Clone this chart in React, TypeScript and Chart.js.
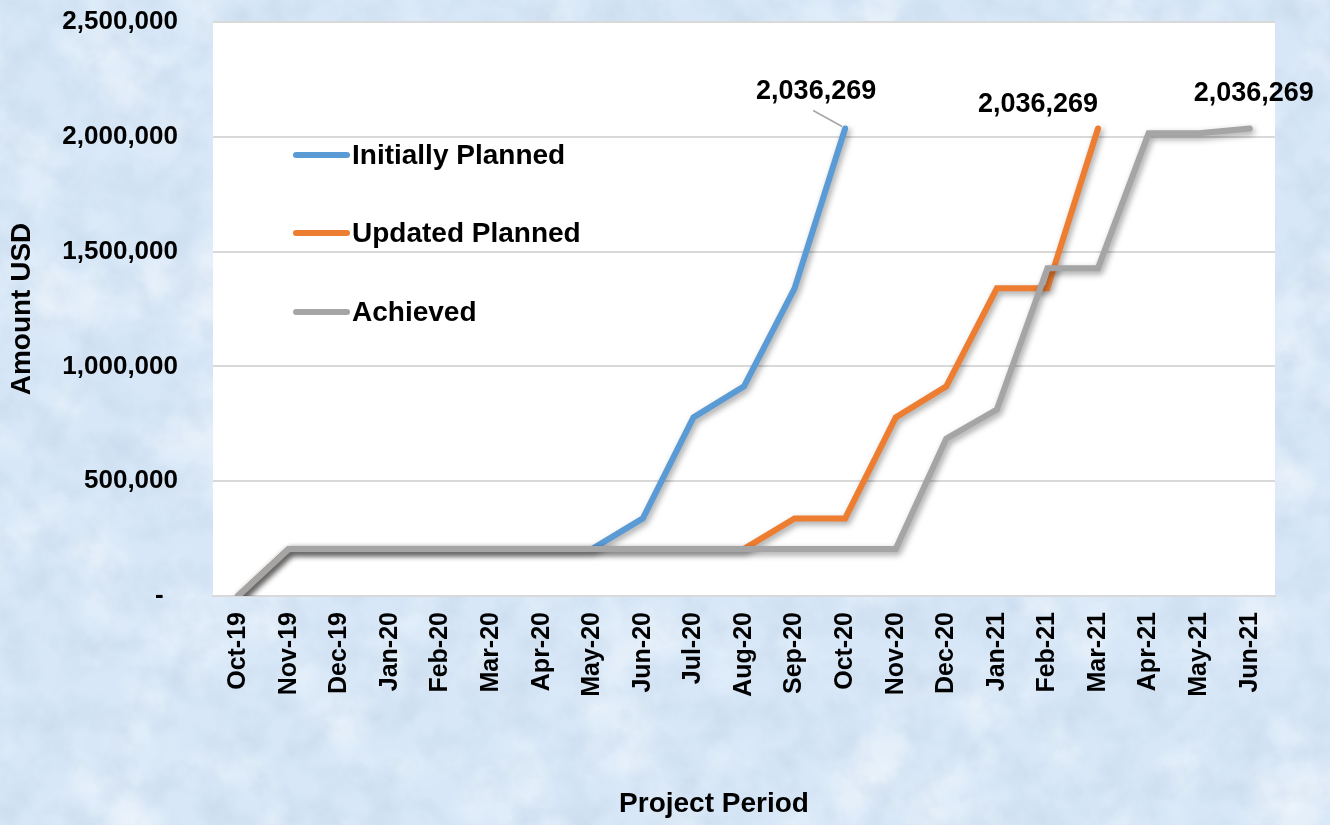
import React, { useEffect, useRef } from "react";
import { Chart, registerables } from "chart.js";

Chart.register(...registerables);

const months = [
  "Oct-19", "Nov-19", "Dec-19", "Jan-20", "Feb-20", "Mar-20", "Apr-20",
  "May-20", "Jun-20", "Jul-20", "Aug-20", "Sep-20", "Oct-20", "Nov-20",
  "Dec-20", "Jan-21", "Feb-21", "Mar-21", "Apr-21", "May-21", "Jun-21",
];
const initiallyPlanned = [
  0, 205000, 205000, 205000, 205000, 205000, 205000, 205000, 338000, 778000,
  913000, 1340000, 2036269, null, null, null, null, null, null, null, null,
];
const updatedPlanned = [
  0, 205000, 205000, 205000, 205000, 205000, 205000, 205000, 205000, 205000,
  205000, 338000, 338000, 778000, 913000, 1340000, 1340000, 2036269, null, null, null,
];
const achieved = [
  0, 205000, 205000, 205000, 205000, 205000, 205000, 205000, 205000, 205000,
  205000, 205000, 205000, 205000, 685000, 812000, 1428000, 1428000, 2015000, 2015000, 2036269,
];
const seriesNames = ["Initially Planned", "Updated Planned", "Achieved"];
const seriesColors = ["#5B9BD5", "#ED7D31", "#A5A5A5"];
const yTickValues = [0, 500000, 1000000, 1500000, 2000000, 2500000];
const endLabel = "2,036,269";
const xTitle = "Project Period";
const yTitle = "Amount USD";

const FONT = "'Liberation Sans', Arial, sans-serif";

const fmt = (v: number) => (v === 0 ? "-  " : v.toLocaleString("en-US"));

const plotBgPlugin = {
  id: "plotBg",
  beforeDraw(chart: any) {
    const { ctx, chartArea: a } = chart;
    ctx.save();
    ctx.fillStyle = "#ffffff";
    ctx.fillRect(a.left, a.top, a.right - a.left, a.bottom - a.top);
    ctx.restore();
  },
};

const shadowPlugin = {
  id: "lineShadow",
  beforeDatasetDraw(chart: any) {
    const ctx = chart.ctx;
    ctx.save();
    ctx.shadowColor = "rgba(0,0,0,0.38)";
    ctx.shadowBlur = 6;
    ctx.shadowOffsetX = 2;
    ctx.shadowOffsetY = 3;
  },
  afterDatasetDraw(chart: any) {
    chart.ctx.restore();
  },
};

// label offsets relative to each series' last point (style only)
const labelOffsets = [
  { dx: -29, dy: -37, leader: true },
  { dx: -60, dy: -24, leader: false },
  { dx: 4, dy: -35, leader: false },
];

const annotatePlugin = {
  id: "annotate",
  afterDatasetsDraw(chart: any) {
    const { ctx, chartArea: a } = chart;
    ctx.save();
    // legend
    const legendX = a.left + 80;
    const legendYs = [133, 211, 290];
    seriesNames.forEach((name, i) => {
      const y = a.top + legendYs[i];
      ctx.strokeStyle = seriesColors[i];
      ctx.lineWidth = 6;
      ctx.lineCap = "round";
      ctx.beginPath();
      ctx.moveTo(legendX + 3, y);
      ctx.lineTo(legendX + 54, y);
      ctx.stroke();
      ctx.fillStyle = "#000";
      ctx.font = `bold 28px ${FONT}`;
      ctx.textAlign = "left";
      ctx.textBaseline = "middle";
      ctx.fillText(name, legendX + 59, y + 1);
    });
    // end labels
    chart.data.datasets.forEach((ds: any, di: number) => {
      const meta = chart.getDatasetMeta(di);
      let last = -1;
      ds.data.forEach((v: any, k: number) => {
        if (v !== null && v !== undefined) last = k;
      });
      if (last < 0) return;
      const pt = meta.data[last];
      const off = labelOffsets[ds.seriesIndex];
      const cx = pt.x + off.dx;
      const cy = pt.y + off.dy;
      if (off.leader) {
        ctx.strokeStyle = "#A6A6A6";
        ctx.lineWidth = 1.5;
        ctx.lineCap = "butt";
        ctx.beginPath();
        ctx.moveTo(pt.x - 32, pt.y - 18);
        ctx.lineTo(pt.x - 3, pt.y - 2);
        ctx.stroke();
      }
      ctx.fillStyle = "#000";
      ctx.font = `bold 27px ${FONT}`;
      ctx.textAlign = "center";
      ctx.textBaseline = "middle";
      ctx.fillText(endLabel, cx, cy);
    });
    // x axis title
    ctx.fillStyle = "#000";
    ctx.font = `bold 28px ${FONT}`;
    ctx.textAlign = "center";
    ctx.textBaseline = "middle";
    ctx.fillText(xTitle, (a.left + a.right) / 2 - 30, chart.height - 21);
    ctx.restore();
  },
};

const noiseSvg =
  "<svg xmlns='http://www.w3.org/2000/svg' width='1330' height='825'>" +
  "<filter id='n' x='0' y='0' width='100%' height='100%'>" +
  "<feTurbulence type='fractalNoise' baseFrequency='0.03' numOctaves='4' seed='7'/>" +
  "<feColorMatrix type='matrix' values='0 0 0 0 0.55 0 0 0 0 0.67 0 0 0 0 0.82 1.1 0 0 0 -0.42'/>" +
  "</filter>" +
  "<filter id='w' x='0' y='0' width='100%' height='100%'>" +
  "<feTurbulence type='fractalNoise' baseFrequency='0.012' numOctaves='3' seed='2'/>" +
  "<feColorMatrix type='matrix' values='0 0 0 0 1 0 0 0 0 1 0 0 0 0 1 0 1.2 0 0 -0.55'/>" +
  "</filter>" +
  "<rect width='100%' height='100%' filter='url(#w)'/>" +
  "<rect width='100%' height='100%' filter='url(#n)'/>" +
  "</svg>";

export default function App() {
  const ref = useRef<HTMLCanvasElement | null>(null);

  useEffect(() => {
    if (!ref.current) return;
    const seriesData = [initiallyPlanned, updatedPlanned, achieved];
    const chart = new Chart(ref.current, {
      type: "line",
      data: {
        labels: months,
        datasets: seriesData.map((d, i) => ({
          label: seriesNames[i],
          data: d,
          seriesIndex: i,
          borderColor: seriesColors[i],
          backgroundColor: seriesColors[i],
          borderWidth: 6,
          borderCapStyle: "round",
          borderJoinStyle: "miter",
          pointRadius: 0,
          pointHoverRadius: 0,
          tension: 0,
          spanGaps: false,
          fill: false,
          order: 3 - i,
        })) as any,
      },
      options: {
        animation: false,
        responsive: true,
        maintainAspectRatio: false,
        events: [],
        layout: { padding: { top: 22, right: 55, left: 0, bottom: 0 } },
        plugins: {
          legend: { display: false },
          tooltip: { enabled: false },
          title: { display: false },
        },
        scales: {
          x: {
            type: "category",
            offset: true,
            grid: { display: false, drawTicks: false },
            border: { display: true, color: "#D9D9D9", width: 2 },
            ticks: {
              autoSkip: false,
              maxRotation: 90,
              minRotation: 90,
              padding: 16,
              color: "#000",
              font: { family: FONT, size: 25, weight: "bold" },
            },
            title: { display: false },
            afterFit: (s: any) => {
              s.height = 229;
            },
          },
          y: {
            type: "linear",
            min: 0,
            max: 2500000,
            grid: {
              color: "#D9D9D9",
              lineWidth: 2,
              drawTicks: true,
              tickLength: 35,
              tickColor: "rgba(0,0,0,0)",
            },
            border: { display: false },
            afterBuildTicks: (s: any) => {
              s.ticks = yTickValues.map((v) => ({ value: v }));
            },
            ticks: {
              padding: 0,
              color: "#000",
              font: { family: FONT, size: 26, weight: "bold" },
              callback: (v: any) => fmt(Number(v)),
            },
            title: {
              display: true,
              text: yTitle,
              color: "#000",
              font: { family: FONT, size: 28, weight: "bold" },
              padding: { top: 5, bottom: 0 },
            },
            afterFit: (s: any) => {
              s.width = 213;
            },
          },
        },
      } as any,
      plugins: [plotBgPlugin, shadowPlugin, annotatePlugin],
    });
    return () => chart.destroy();
  }, []);

  const bg: React.CSSProperties = {
    position: "fixed",
    left: 0,
    top: 0,
    width: 1330,
    height: 825,
    backgroundColor: "#d7e7f7",
    backgroundImage: `url("data:image/svg+xml,${encodeURIComponent(noiseSvg)}")`,
    backgroundSize: "1330px 825px",
  };

  return (
    <div style={bg}>
      <canvas ref={ref} style={{ width: "1330px", height: "825px", display: "block" }} />
    </div>
  );
}
